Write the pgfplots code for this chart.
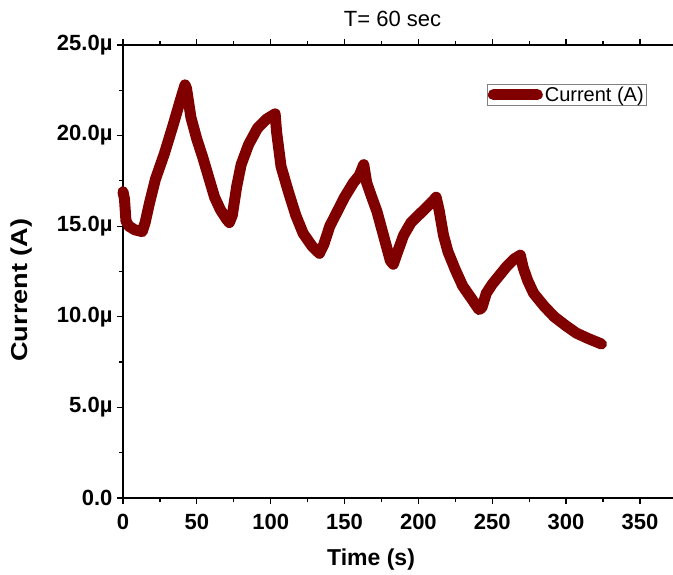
\documentclass[border=0pt]{standalone}
\usepackage{pgfplots}
\pgfplotsset{compat=1.18}
\usepackage{fontspec}
\setmainfont{Liberation Sans}
\definecolor{curr}{RGB}{128,0,0}
\begin{document}
\begin{tikzpicture}
\useasboundingbox (-123bp,-77bp) rectangle (550bp,498bp);
\begin{axis}[
  at={(0,0)}, anchor=south west,
  scale only axis,
  width=550bp, height=453bp,
  xmin=0, xmax=372.4, ymin=0, ymax=25,
  axis x line=box, axis y line=left,
  axis line style={line width=1.2bp, -},
  tick align=outside,
  major tick length=6bp, minor tick length=4bp,
  tick style={line width=1.2bp, black},
  xtick={0,50,...,350}, minor x tick num=1,
  ytick={0,5,10,15,20,25}, minor y tick num=1,
  yticklabels={0.0,5.0µ,10.0µ,15.0µ,20.0µ,25.0µ},
  /pgf/number format/assume math mode=true,
  ticklabel style={font=\fontsize{22bp}{24bp}\selectfont\bfseries},
  xticklabel style={yshift=-7bp},
  yticklabel style={xshift=-1bp},
  xlabel={Time (s)}, ylabel={Current (A)},
  every axis x label/.style={at={(rel axis cs:0.451,0)}, yshift=-62bp, anchor=center,
    font=\fontsize{23bp}{26bp}\selectfont\bfseries},
  every axis y label/.style={at={(rel axis cs:0,0.459)}, xshift=-101bp, anchor=center, rotate=90,
    xscale=1.18, font=\fontsize{23bp}{26bp}\selectfont\bfseries},
  title={T= 60 sec},
  every axis title/.style={at={(rel axis cs:0.49,1)}, yshift=26bp, anchor=center,
    font=\fontsize{22bp}{24bp}\selectfont},
  clip=false,
  legend style={at={(0.662,0.914)}, anchor=north west, draw=gray, line width=0.6bp,
    font=\fontsize{20bp}{22bp}\selectfont, inner sep=0.5bp, row sep=0bp},
  legend image code/.code={\draw[line width=11bp, line cap=round, curr] (0.0cm,0cm) -- (1.55cm,0cm);},
  legend cell align=left,
]
\addplot[curr, line width=11bp, line join=round, line cap=round] coordinates {
(0,16.9) (1,16.5) (2,15.3) (4,15.0) (8,14.8) (13,14.7) (15,15.2) (18,16.3) (22,17.6) (28,19.0) (34,20.6) (39,22.0) (42,22.8) (43,22.6) (46,21.0) (50,19.8) (54,18.8) (58,17.7) (62,16.6) (66,15.9) (70,15.4) (72,15.2) (74,15.6) (77,17.2) (80,18.4) (85,19.5) (91,20.4) (97,20.9) (101,21.1) (103,21.2) (104,20.2) (107,18.3) (112,16.9) (117,15.6) (122,14.6) (128,13.9) (133,13.5) (136,14.0) (140,15.0) (145,15.8) (150,16.6) (156,17.4) (160,17.8) (163,18.4) (165,17.4) (168,16.7) (172,15.8) (177,14.3) (181,13.1) (183,12.9) (186,13.6) (190,14.5) (195,15.2) (200,15.6) (205,16.0) (210,16.4) (212,16.6) (214,15.9) (217,14.5) (220,13.6) (225,12.6) (230,11.7) (236,11.0) (241,10.4) (243,10.5) (246,11.3) (250,11.8) (255,12.3) (260,12.8) (265,13.2) (269,13.4) (271,12.7) (274,12.0) (278,11.3) (285,10.6) (292,10.0) (300,9.5) (307,9.1) (315,8.8) (324,8.5)
};
\addlegendentry{Current (A)}
\end{axis}
\end{tikzpicture}
\end{document}
